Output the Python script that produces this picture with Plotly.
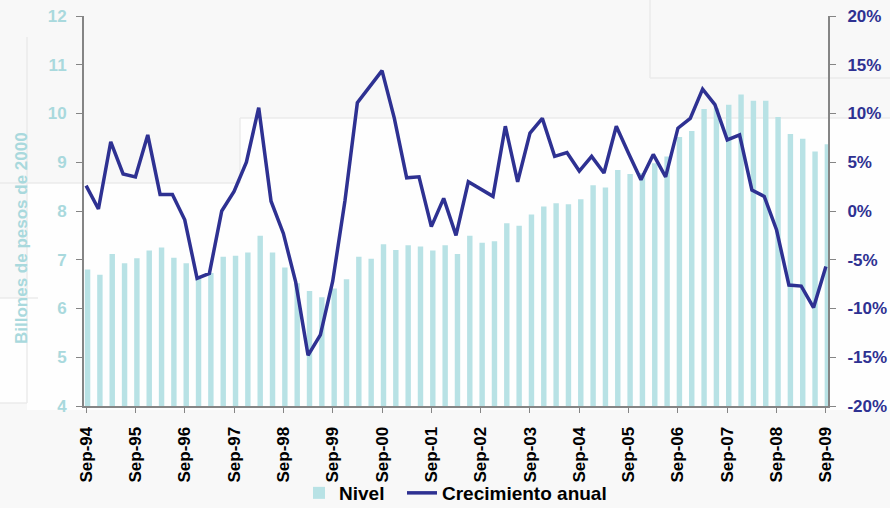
import plotly.graph_objects as go

# Quarterly periods, Sep-94 through Sep-09
periods = []
for yr in range(94, 110):
    nxt = (yr + 1) % 100
    periods += [f"Sep-{yr % 100:02d}", f"Dic-{yr % 100:02d}",
                f"Mar-{nxt:02d}", f"Jun-{nxt:02d}"]
periods = periods[:61]

# Level, billions of 2000 pesos
nivel = [
    6.80, 6.69, 7.12, 6.93, 7.03, 7.19, 7.25, 7.04, 6.93, 6.62,
    6.73, 7.06, 7.08, 7.15, 7.49, 7.15, 6.84, 6.52, 6.36, 6.23,
    6.41, 6.60, 7.06, 7.02, 7.32, 7.20, 7.30, 7.27, 7.19, 7.30,
    7.12, 7.49, 7.35, 7.38, 7.75, 7.70, 7.93, 8.09, 8.16, 8.14,
    8.24, 8.53, 8.48, 8.84, 8.76, 8.78, 8.98, 9.12, 9.52, 9.64,
    10.09, 10.11, 10.18, 10.39, 10.26, 10.26, 9.93, 9.58, 9.48, 9.22,
    9.37,
]

# Annual growth, percent
crecimiento = [
    2.6, 0.2, 7.1, 3.8, 3.5, 7.8, 1.7, 1.7, -0.9, -6.9,
    -6.4, 0.0, 2.0, 5.0, 10.6, 1.0, -2.3, -7.3, -14.8, -12.7,
    -7.2, 1.1, 11.1, 12.7, 14.4, 9.5, 3.4, 3.5, -1.6, 1.3,
    -2.5, 3.0, 2.3, 1.5, 8.7, 3.0, 8.0, 9.5, 5.6, 6.0,
    4.1, 5.6, 3.9, 8.7, 5.9, 3.2, 5.8, 3.5, 8.5, 9.5,
    12.5, 10.9, 7.3, 7.8, 2.15, 1.5, -1.95, -7.6, -7.7, -9.9,
    -5.7,
]

sep_ticks = [p for p in periods if p.startswith("Sep")]
left_ticks = [4, 5, 6, 7, 8, 9, 10, 11, 12]
right_ticks = [-20, -15, -10, -5, 0, 5, 10, 15, 20]
right_text = [f"{v}%" for v in right_ticks]

BAR = "#b8e2e5"
LINE = "#2e3192"
LEFT_TXT = "#a9d9dd"
AXIS = "#858585"
FONT = "Liberation Sans, Arial, sans-serif"

# Page geometry: plot area spans 84..828 px across and 16..406 px down
W, H = 890, 508
L, R, T, B = 84, 62, 16, 102
PW, PH = W - L - R, H - T - B


def px(x):
    return (x - L) / PW


def py(y):
    return (H - B - y) / PH


fig = go.Figure()
fig.add_trace(go.Bar(
    x=periods, y=nivel, name="Nivel", legend="legend",
    marker=dict(color=BAR, line=dict(width=0)),
    width=0.44, offset=-0.1,
))
fig.add_trace(go.Scatter(
    x=periods, y=crecimiento, name="Crecimiento anual", yaxis="y2",
    legend="legend2",
    mode="lines", line=dict(color=LINE, width=3.5),
))


def panel(x0, x1, y0, y1):
    return dict(type="rect", xref="paper", yref="paper", layer="below",
                x0=px(x0), x1=px(x1), y0=py(y0), y1=py(y1),
                fillcolor="#fefefe", line=dict(width=0))


def rule(x0, x1, y0, y1):
    return dict(type="line", xref="paper", yref="paper", layer="below",
                x0=px(x0), x1=px(x1), y0=py(y0), y1=py(y1),
                line=dict(color="#ebebeb", width=1.5))


# Faint slide panels behind the chart
shapes = [
    panel(240, W, 118, 410),
    panel(27, 240, 183, 410),
    panel(0, 27, 298, 403),
    rule(240, W, 118, 118),
    rule(240, 240, 118, 183),
    rule(0, 240, 183, 183),
    rule(0, 38, 298, 298),
    rule(0, 27, 403, 403),
    rule(27, 27, 37, 403),
    rule(650, 650, 0, 78),
    rule(650, W, 78, 78),
]

legend_common = dict(
    orientation="h", xanchor="left", yanchor="middle", y=py(493),
    font=dict(family=FONT, size=19, color="#000000", weight="bold"),
    bgcolor="rgba(0,0,0,0)", itemwidth=30,
)

fig.update_layout(
    width=W, height=H,
    margin=dict(l=L, r=R, t=T, b=B, autoexpand=False),
    paper_bgcolor="#f8f8f8", plot_bgcolor="rgba(0,0,0,0)",
    font=dict(family=FONT, size=17, color="#000000"),
    showlegend=True,
    legend=dict(legend_common, x=px(299)),
    legend2=dict(legend_common, x=px(402)),
    xaxis=dict(
        type="category", range=[-0.17, 60.17], automargin=False,
        tickmode="array", tickvals=sep_ticks, ticktext=sep_ticks,
        tickangle=-90, ticks="outside", ticklen=5, tickcolor=AXIS,
        ticklabelstandoff=7,
        showline=True, linecolor=AXIS, linewidth=2,
        showgrid=False, zeroline=False,
        tickfont=dict(family=FONT, size=17, color="#000000", weight="bold"),
    ),
    yaxis=dict(
        range=[4, 12], tickvals=left_ticks, ticks="outside", ticklen=6,
        automargin=False, ticklabelstandoff=6,
        tickcolor=AXIS, showline=True, linecolor=AXIS, linewidth=2,
        showgrid=False, zeroline=False,
        tickfont=dict(family=FONT, size=17, color=LEFT_TXT, weight="bold"),
    ),
    yaxis2=dict(
        range=[-20, 20], overlaying="y", side="right",
        tickvals=right_ticks, ticktext=right_text, ticks="outside", ticklen=6,
        automargin=False, ticklabelstandoff=8,
        tickcolor=AXIS, showline=True, linecolor=AXIS, linewidth=2,
        showgrid=False, zeroline=False,
        tickfont=dict(family=FONT, size=17, color=LINE, weight="bold"),
    ),
    shapes=shapes,
    annotations=[dict(
        text="Billones de pesos de 2000", xref="paper", yref="paper",
        x=px(21), y=py(238), xanchor="center", yanchor="middle",
        textangle=-90, showarrow=False,
        font=dict(family=FONT, size=17, color=LEFT_TXT, weight="bold"),
    )],
)

fig.write_html("out.html")
